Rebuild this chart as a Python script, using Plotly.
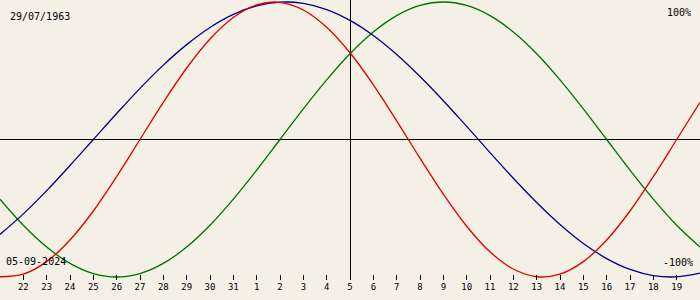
import plotly.graph_objects as go

# Day offsets relative to the selected date (05-09-2024), one point per day
days = list(range(-15, 16))
day_labels = [21, 22, 23, 24, 25, 26, 27, 28, 29, 30, 31, 1, 2, 3, 4, 5,
              6, 7, 8, 9, 10, 11, 12, 13, 14, 15, 16, 17, 18, 19, 20]

# Values in percent
physical = [-99.8, -97.9, -88.8, -73.1, -52.0, -27.0, 0.0, 27.0, 52.0, 73.1, 88.8,
            97.9, 99.8, 94.2, 81.7, 63.1, 39.8, 13.6, -13.6, -39.8, -63.1, -81.7,
            -94.2, -99.8, -97.9, -88.8, -73.1, -52.0, -27.0, 0.0, 27.0]
emotional = [-43.4, -62.4, -78.2, -90.1, -97.5, -100.0, -97.5, -90.1, -78.2, -62.4, -43.4,
             -22.3, 0.0, 22.3, 43.4, 62.4, 78.2, 90.1, 97.5, 100.0, 97.5, 90.1,
             78.2, 62.4, 43.4, 22.3, 0.0, -22.3, -43.4, -62.4, -78.2]
intellectual = [-69.0, -54.1, -37.2, -18.9, 0.0, 18.9, 37.2, 54.1, 69.0, 81.5, 91.0,
                97.2, 99.9, 99.0, 94.5, 86.6, 75.6, 61.8, 45.8, 28.2, 9.5, -9.5,
                -28.2, -45.8, -61.8, -75.6, -86.6, -94.5, -99.0, -99.9, -97.2]

birth_text = "29/07/1963"
date_text = "05-09-2024"
top_text = "100%"
bottom_text = "-100%"

BG = "#F4F0E6"
FONT = "DejaVu Sans Mono"

fig = go.Figure()
for vals, col in [(emotional, "#007000"), (intellectual, "#00008C"), (physical, "#E00000")]:
    fig.add_trace(go.Scatter(x=days, y=vals, mode="lines",
                             line=dict(color=col, width=1.3, shape="spline"),
                             hoverinfo="skip", showlegend=False))

tickvals = days[1:-1]
ticktext = [str(d) for d in day_labels[1:-1]]

fig.update_layout(
    width=700, height=300,
    margin=dict(l=0, r=0, t=0, b=0),
    paper_bgcolor=BG, plot_bgcolor=BG,
    showlegend=False,
    xaxis=dict(range=[days[0], days[-1]], showgrid=False,
               zeroline=True, zerolinecolor="black", zerolinewidth=1,
               tickmode="array", tickvals=tickvals, ticktext=ticktext,
               ticks="inside", ticklen=5, tickwidth=1, tickcolor="black",
               tickfont=dict(family=FONT, size=9, color="black"),
               showline=False, fixedrange=True),
    yaxis=dict(range=[-102.18, 101.46], domain=[20 / 300, 1], showgrid=False,
               zeroline=True, zerolinecolor="black", zerolinewidth=1,
               showticklabels=False, ticks="", showline=False, fixedrange=True),
    annotations=[
        dict(text=birth_text, xref="paper", yref="paper", x=8 / 700, y=1 - 16.5 / 300,
             xanchor="left", yanchor="middle", showarrow=False,
             font=dict(family=FONT, size=10, color="black")),
        dict(text=top_text, xref="paper", yref="paper", x=693 / 700, y=1 - 12.5 / 300,
             xanchor="right", yanchor="middle", showarrow=False,
             font=dict(family=FONT, size=10, color="black")),
        dict(text=date_text, xref="paper", yref="paper", x=4 / 700, y=1 - 261.5 / 300,
             xanchor="left", yanchor="middle", showarrow=False,
             font=dict(family=FONT, size=10, color="black")),
        dict(text=bottom_text, xref="paper", yref="paper", x=695 / 700, y=1 - 262 / 300,
             xanchor="right", yanchor="middle", showarrow=False,
             font=dict(family=FONT, size=10, color="black")),
    ],
)

fig.write_html("out.html")
